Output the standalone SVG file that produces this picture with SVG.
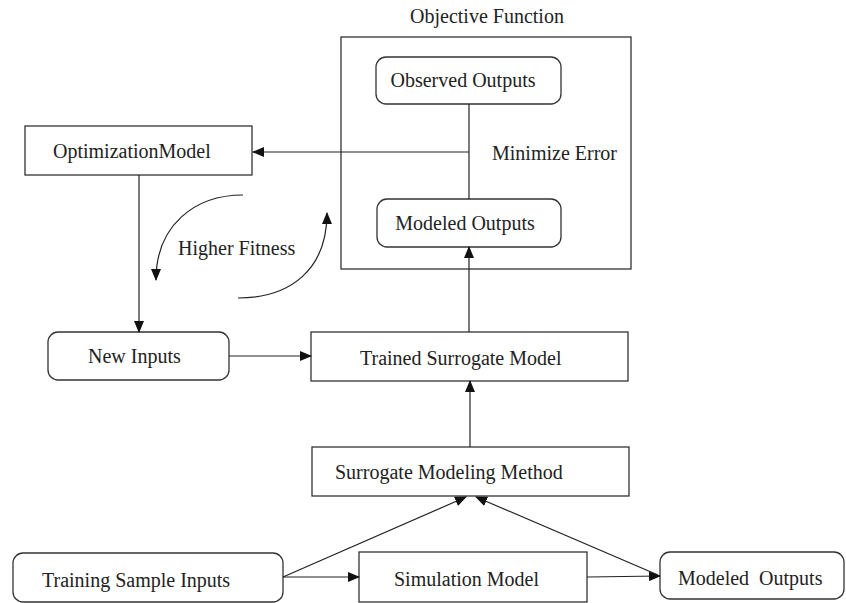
<svg xmlns="http://www.w3.org/2000/svg" width="846" height="603" viewBox="0 0 846 603">
<style>
.box{fill:#fff;stroke:#333;stroke-width:1.3}
.t{font-family:"Liberation Serif","Times New Roman",serif;font-size:20px;fill:#222}
.c{fill:none;stroke:#222;stroke-width:1.2}
</style>
<defs>
<marker id="ah" markerUnits="userSpaceOnUse" markerWidth="12" markerHeight="10" refX="11" refY="5" orient="auto">
<path d="M0,0 L12,5 L0,10 Z" fill="#111"/>
</marker>
</defs>
<rect width="846" height="603" fill="#fff"/>
<g id="objective">
<rect class="box" x="341" y="37" width="290" height="232"/>
<text class="t" x="487" y="23" text-anchor="middle">Objective Function</text>
</g>
<g id="observed">
<rect class="box" x="376" y="57" width="185" height="47" rx="10"/>
<text class="t" x="463" y="87" text-anchor="middle">Observed Outputs</text>
</g>
<g id="modeled-top">
<rect class="box" x="377" y="199" width="184" height="48" rx="10"/>
<text class="t" x="465" y="230" text-anchor="middle">Modeled Outputs</text>
</g>
<g id="minimize">
<text class="t" x="492" y="160">Minimize Error</text>
</g>
<g id="optimization">
<rect class="box" x="25" y="126" width="227" height="49"/>
<text class="t" x="53" y="158">OptimizationModel</text>
</g>
<g id="fitness">
<text class="t" x="178" y="255">Higher Fitness</text>
</g>
<g id="newinputs">
<rect class="box" x="48" y="332" width="181" height="48" rx="10"/>
<text class="t" x="88" y="363">New Inputs</text>
</g>
<g id="trained">
<rect class="box" x="311" y="332" width="317" height="49"/>
<text class="t" x="360" y="365">Trained Surrogate Model</text>
</g>
<g id="method">
<rect class="box" x="312" y="447" width="317" height="49"/>
<text class="t" x="335" y="479">Surrogate Modeling Method</text>
</g>
<g id="training">
<rect class="box" x="13" y="553" width="270" height="49" rx="10"/>
<text class="t" x="42" y="587">Training Sample Inputs</text>
</g>
<g id="simulation">
<rect class="box" x="359" y="552" width="228" height="50"/>
<text class="t" x="394" y="586">Simulation Model</text>
</g>
<g id="modeled-bottom">
<rect class="box" x="660" y="552" width="184" height="47" rx="10"/>
<text class="t" x="678" y="585">Modeled&#160; Outputs</text>
</g>
<g id="connectors">
<line class="c" x1="469" y1="104" x2="469" y2="199"/>
<line class="c" x1="469" y1="152" x2="253" y2="152" marker-end="url(#ah)"/>
<line class="c" x1="139" y1="175" x2="139" y2="332" marker-end="url(#ah)"/>
<path class="c" d="M243,195 C195,195 156,225 156,280" marker-end="url(#ah)"/>
<path class="c" d="M238,298 C290,298 327,270 327,213" marker-end="url(#ah)"/>
<line class="c" x1="229" y1="356" x2="311" y2="356" marker-end="url(#ah)"/>
<line class="c" x1="469" y1="332" x2="469" y2="247" marker-end="url(#ah)"/>
<line class="c" x1="470" y1="447" x2="470" y2="381" marker-end="url(#ah)"/>
<line class="c" x1="283" y1="577" x2="466" y2="497" marker-end="url(#ah)"/>
<line class="c" x1="283" y1="577" x2="359" y2="577" marker-end="url(#ah)"/>
<line class="c" x1="587" y1="577" x2="660" y2="576" marker-end="url(#ah)"/>
<line class="c" x1="658" y1="575" x2="476" y2="497" marker-end="url(#ah)"/>
</g>
</svg>
